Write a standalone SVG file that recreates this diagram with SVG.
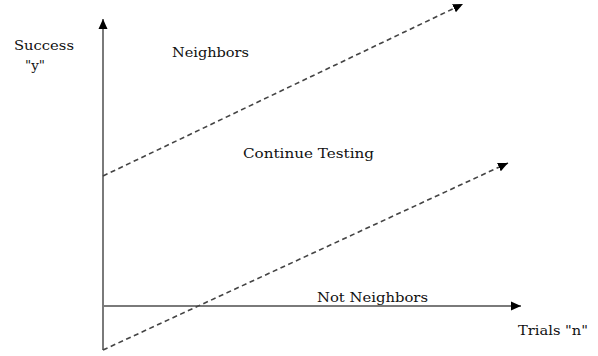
<svg xmlns="http://www.w3.org/2000/svg" width="598" height="356" viewBox="0 0 598 356">
<style>
text{font-family:"DejaVu Serif","Liberation Serif",serif;font-size:13.5px;fill:#111}
.axis{stroke:#7a7a7a;stroke-width:2;fill:none}
.bound{stroke:#444;stroke-width:1.6;stroke-dasharray:5,3.5;fill:none}
</style>
<defs>
<marker id="ah" viewBox="0 0 10 10" refX="10" refY="5" markerWidth="10" markerHeight="10" markerUnits="userSpaceOnUse" orient="auto">
<path d="M0,0.5 L10,5 L0,9.5 Z" fill="#000"/>
</marker>
</defs>
<rect width="598" height="356" fill="#fff"/>
<g id="connectors">
<line class="axis" x1="103" y1="350" x2="103" y2="19" marker-end="url(#ah)"/>
<line class="axis" x1="103" y1="306" x2="521" y2="306" marker-end="url(#ah)"/>
<line class="bound" x1="103" y1="176" x2="463" y2="4" marker-end="url(#ah)"/>
<line class="bound" x1="103" y1="350" x2="508" y2="163" marker-end="url(#ah)"/>
</g>
<g id="label-success"><text x="14" y="50" textLength="60" lengthAdjust="spacingAndGlyphs">Success</text>
<text x="25" y="70" textLength="20" lengthAdjust="spacingAndGlyphs">"y"</text></g>
<g id="region-neighbors"><text x="172" y="57" textLength="77" lengthAdjust="spacingAndGlyphs">Neighbors</text></g>
<g id="region-continue"><text x="243" y="158" textLength="131" lengthAdjust="spacingAndGlyphs">Continue Testing</text></g>
<g id="region-not-neighbors"><text x="317" y="302" textLength="111" lengthAdjust="spacingAndGlyphs">Not Neighbors</text></g>
<g id="label-trials"><text x="518" y="335" textLength="70" lengthAdjust="spacingAndGlyphs">Trials "n"</text></g>
</svg>
